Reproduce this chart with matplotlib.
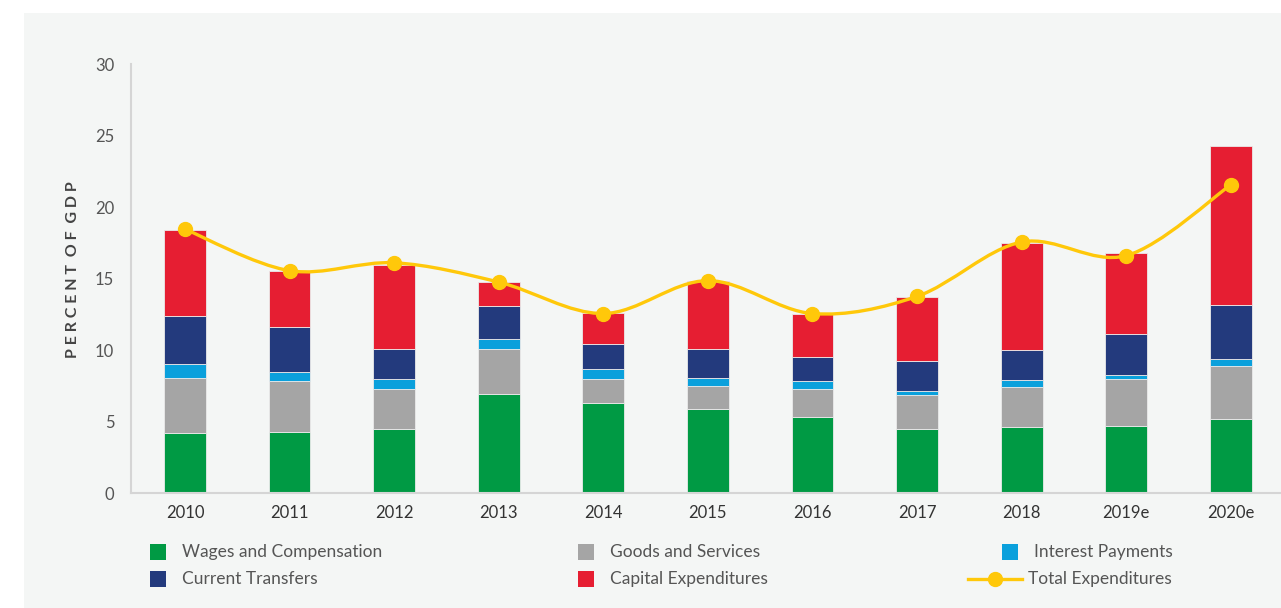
import matplotlib.pyplot as plt
import numpy as np
from matplotlib.path import Path
from matplotlib.patches import PathPatch, Rectangle
from matplotlib.lines import Line2D

years = ["2010", "2011", "2012", "2013", "2014", "2015", "2016", "2017", "2018", "2019e", "2020e"]
wages = [4.2, 4.3, 4.45, 6.95, 6.3, 5.85, 5.3, 4.5, 4.6, 4.7, 5.15]
goods = [3.85, 3.5, 2.8, 3.1, 1.7, 1.65, 1.95, 2.35, 2.8, 3.3, 3.75]
interest = [1.0, 0.65, 0.75, 0.7, 0.65, 0.55, 0.55, 0.3, 0.5, 0.25, 0.45]
transfers = [3.35, 3.15, 2.05, 2.3, 1.8, 2.05, 1.7, 2.1, 2.1, 2.9, 3.8]
capital = [6.0, 3.95, 5.9, 1.7, 2.15, 4.7, 3.05, 4.45, 7.45, 5.6, 11.1]
total = [18.45, 15.55, 16.1, 14.75, 12.55, 14.85, 12.55, 13.75, 17.55, 16.6, 21.55]

names = ["Wages and Compensation", "Goods and Services", "Interest Payments",
         "Current Transfers", "Capital Expenditures"]
colors = ["#009a44", "#a5a5a5", "#0aa0dc", "#233a7d", "#e61e32"]
yellow = "#ffc80a"

plt.rcParams['font.family'] = ['Lato', 'DejaVu Sans']

fig = plt.figure(figsize=(12.81, 6.08), dpi=100)
fig.patch.set_facecolor("white")
fig.patches.append(Rectangle((24/1281, 0), 1, 1 - 13/608, transform=fig.transFigure,
                             facecolor="#f4f6f5", edgecolor="none", zorder=-10))

ax = fig.add_axes([131/1281, 115/608, 1 - 131/1281, 429/608])
ax.set_facecolor("none")

x = np.arange(len(years))
bottom = np.zeros(len(years))
for vals, c in zip([wages, goods, interest, transfers, capital], colors):
    ax.bar(x, vals, 0.4, bottom=bottom, color=c, edgecolor="#eaeaea", linewidth=0.6, zorder=2)
    bottom += np.array(vals)

# smooth line through the totals (catmull-rom as bezier path)
pts = np.column_stack([x, total]).astype(float)
verts = [pts[0]]
codes = [Path.MOVETO]
for i in range(len(pts) - 1):
    p0 = pts[i - 1] if i > 0 else pts[i]
    p1 = pts[i]
    p2 = pts[i + 1]
    p3 = pts[i + 2] if i + 2 < len(pts) else pts[i + 1]
    verts += [p1 + (p2 - p0) / 6, p2 - (p3 - p1) / 6, p2]
    codes += [Path.CURVE4] * 3
ax.add_patch(PathPatch(Path(verts, codes), facecolor="none", edgecolor=yellow, lw=2.4, zorder=3))
ax.plot(x, total, 'o', color=yellow, ms=10, zorder=4)

ax.set_ylim(0, 30)
ax.set_xlim(-0.516, 10.48)
ax.set_yticks([0, 5, 10, 15, 20, 25, 30])
ax.set_xticks(x)
ax.set_xticklabels(years)
ax.tick_params(length=0, labelsize=12)
ax.tick_params(axis='y', pad=12, labelcolor="#555555")
ax.tick_params(axis='x', pad=9, labelcolor="#333333")
for s in ["top", "right"]:
    ax.spines[s].set_visible(False)
for s in ["left", "bottom"]:
    ax.spines[s].set_color("#d5d5d5")
    ax.spines[s].set_linewidth(1.5)

fig.text(73/1281, 1 - 270/608, "P E R C E N T  O F  G D P", rotation=90, ha="center", va="center",
         fontsize=11.5, fontweight="bold", color="#444444")

# legend
leg = [(158, 552, 0), (586, 552, 1), (1010, 552, 2), (158, 579, 3), (586, 579, 4)]
for px, py, k in leg:
    fig.patches.append(Rectangle(((px - 8) / 1281, 1 - (py + 8) / 608), 16 / 1281, 16 / 608,
                                 transform=fig.transFigure, facecolor=colors[k], edgecolor="none"))
    fig.text((px + 24) / 1281, 1 - py / 608, names[k], ha="left", va="center",
             fontsize=12.5, color="#555555")
fig.lines.append(Line2D([968 / 1281, 1022 / 1281], [1 - 579 / 608] * 2, transform=fig.transFigure,
                        color=yellow, lw=2.4))
fig.lines.append(Line2D([995 / 1281], [1 - 579 / 608], transform=fig.transFigure,
                        color=yellow, marker='o', ms=10))
fig.text(1028 / 1281, 1 - 579 / 608, "Total Expenditures", ha="left", va="center",
         fontsize=12.5, color="#555555")

fig.savefig("out.png", dpi=100, facecolor=fig.get_facecolor())
